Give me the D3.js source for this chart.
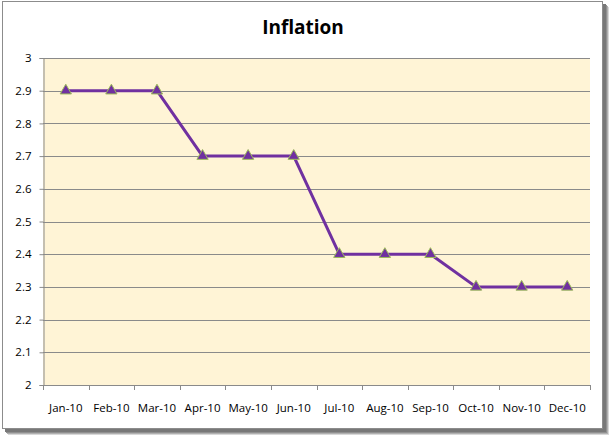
<!DOCTYPE html>
<html><head><meta charset="utf-8">
<script src="https://cdn.jsdelivr.net/npm/d3@7"></script>
<style>body{margin:0;background:#fff}svg{display:block}</style>
</head><body>
<script>
const categories = ["Jan-10","Feb-10","Mar-10","Apr-10","May-10","Jun-10","Jul-10","Aug-10","Sep-10","Oct-10","Nov-10","Dec-10"];
const inflation = [2.9,2.9,2.9,2.7,2.7,2.7,2.4,2.4,2.4,2.3,2.3,2.3];
const yTicks = [2,2.1,2.2,2.3,2.4,2.5,2.6,2.7,2.8,2.9,3];
const yTickLabels = ["2","2.1","2.2","2.3","2.4","2.5","2.6","2.7","2.8","2.9","3"];
const title = "Inflation";

const W = 610, H = 435;
const svg = d3.select("body").append("svg").attr("width", W).attr("height", H);
const font = "'Open Sans', 'Liberation Sans', sans-serif";

// shadow
const shadow = svg.append("g");
[["#d8d8d8",6],["#b0b0b0",5],["#909090",4],["#787878",3]].forEach(([c,o])=>{
  shadow.append("rect").attr("x",2+o).attr("y",1+o).attr("width",601).attr("height",428).attr("fill",c);
});
svg.append("rect").attr("x",2.5).attr("y",1.5).attr("width",600).attr("height",427)
  .attr("fill","#fff").attr("stroke","#8c8c8c").attr("stroke-width",1);

const m = {left:43, right:590, top:58, bottom:385};
const x = d3.scaleBand().domain(categories).range([m.left, m.right]);
const y = d3.scaleLinear().domain([2,3]).range([m.bottom, m.top]);

svg.append("rect").attr("x",m.left).attr("y",m.top).attr("width",m.right-m.left).attr("height",m.bottom-m.top)
  .attr("fill","#fff4d6");

// gridlines
svg.append("g").selectAll("line").data(yTicks.slice(1)).join("line")
  .attr("x1",m.left).attr("x2",m.right)
  .attr("y1",d=>Math.round(y(d))+0.5).attr("y2",d=>Math.round(y(d))+0.5)
  .attr("stroke","#8a8a8a").attr("stroke-width",1);

// y axis
const yAxis = svg.append("g").attr("transform",`translate(${m.left+0.5},0)`)
  .call(d3.axisLeft(y).tickValues(yTicks).tickFormat((d,i)=>yTickLabels[i]).tickSize(4).tickPadding(8));
yAxis.selectAll("path,line").attr("stroke","#8a8a8a");
yAxis.selectAll("text").attr("font-family",font).attr("font-size",11.5).attr("fill","#000");

// x axis
const xAxis = svg.append("g").attr("transform",`translate(0,${m.bottom+0.5})`)
  .call(d3.axisBottom(x).tickSize(0).tickPadding(18));
xAxis.select("path").attr("stroke","#8a8a8a").attr("d",`M${m.left},0H${m.right}`);
xAxis.selectAll("text").attr("font-family",font).attr("font-size",11.5).attr("fill","#000");
svg.append("g").selectAll("line").data(d3.range(categories.length+1)).join("line")
  .attr("x1",i=>Math.round(m.left + i*x.step())+0.5).attr("x2",i=>Math.round(m.left + i*x.step())+0.5)
  .attr("y1",m.bottom).attr("y2",m.bottom+5).attr("stroke","#8a8a8a");

// line
const cx = d => x(d) + x.bandwidth()/2;
svg.append("path").datum(inflation)
  .attr("d", d3.line().x((d,i)=>cx(categories[i])).y(d=>y(d)))
  .attr("fill","none").attr("stroke","#7030a0").attr("stroke-width",3).attr("stroke-linejoin","round");

// markers
svg.append("g").selectAll("path").data(inflation).join("path")
  .attr("transform",(d,i)=>`translate(${cx(categories[i])},${y(d)})`)
  .attr("d", d3.symbol(d3.symbolTriangle, 55))
  .attr("fill","#7030a0").attr("stroke","#9bbb59").attr("stroke-width",1);

// title
svg.append("text").attr("x",303).attr("y",34).attr("text-anchor","middle")
  .attr("font-family",font).attr("font-weight","bold").attr("font-size",19)
  .text(title);
</script>
</body></html>
